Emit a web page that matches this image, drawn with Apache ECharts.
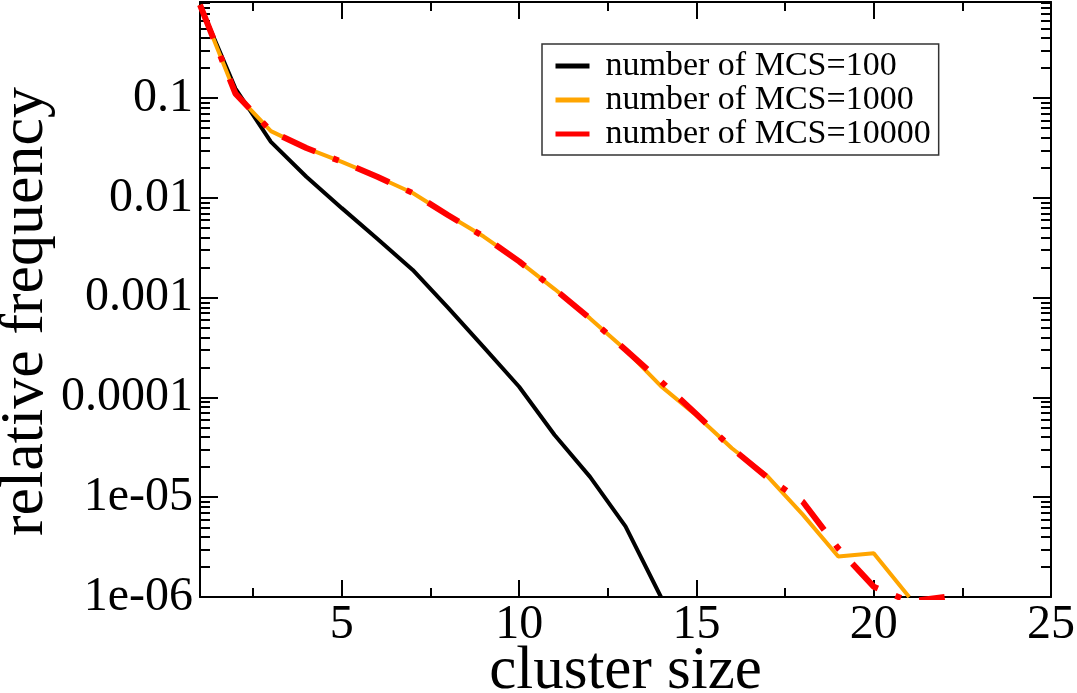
<!DOCTYPE html>
<html>
<head>
<meta charset="utf-8">
<script src="https://cdn.jsdelivr.net/npm/echarts@6/dist/echarts.min.js"></script>
<style>
  html, body { margin: 0; padding: 0; background: #fff; }
  #main { width: 1077px; height: 693px; }
</style>
</head>
<body>
<div id="main"></div>
<script>
// cluster size, 1..22
var sizes = [1, 2, 3, 4, 5, 6, 7, 8, 9, 10, 11, 12, 13, 14, 15, 16, 17, 18, 19, 20, 21, 22];

// relative frequency
var mcs100 = [0.86, 0.125, 0.0365, 0.0163, 0.0079, 0.0039, 0.0019, 0.00079, 0.00032, 0.000128,
	4.2e-5, 1.6e-5, 5.1e-6, 1.0e-6];
var mcs1000 = [0.86, 0.111, 0.0467, 0.0316, 0.023, 0.0163, 0.0112, 0.0067, 0.0041, 0.00231,
	0.00122, 0.00062, 0.0003, 0.00013, 6.6e-5, 3.1e-5, 1.63e-5, 6.7e-6, 2.55e-6, 2.75e-6, 1.0e-6];
var mcs10000 = [0.86, 0.111, 0.0467, 0.0316, 0.023, 0.0163, 0.0112, 0.0067, 0.0041, 0.00231,
	0.00122, 0.00062, 0.0003, 0.000145, 6.8e-5, 3.1e-5, 1.58e-5, 9.0e-6, 3.07e-6, 1.27e-6, 9.0e-7, 1.0e-6];

var names = ['number of MCS=100', 'number of MCS=1000', 'number of MCS=10000'];

// ticks
var xMajor = [5, 10, 15, 20, 25];
var xMinor = [2.5, 7.5, 12.5, 17.5, 22.5];
var yMajor = [1e-6, 1e-5, 1e-4, 1e-3, 1e-2, 1e-1];
var yLabels = ['1e-06', '1e-05', '0.0001', '0.001', '0.01', '0.1'];
var yMinor = [];
for (var e = -6; e <= -1; e++) {
	for (var k = 2; k <= 9; k++) {
		var v = +(k * Math.pow(10, e)).toPrecision(3);
		if (v < 0.92) yMinor.push(v);
	}
}

function pairs(ys) {
	return ys.map(function (y, i) { return [sizes[i], y]; });
}

var font = 'Liberation Serif';
var black = '#000';

function xAx(pos, ticks, len, withLine, withLabel) {
	return {
		type: 'value', min: 1, max: 25, position: pos,
		axisLine: { show: withLine, lineStyle: { color: black, width: 2 } },
		axisTick: { show: true, inside: true, length: len, customValues: ticks,
			lineStyle: { color: black, width: 2 } },
		axisLabel: withLabel ? { customValues: xMajor, fontSize: 48, fontFamily: font,
			color: black, margin: 4 } : { show: false },
		splitLine: { show: false }
	};
}

function yAx(pos, ticks, len, withLine, withLabel) {
	return {
		type: 'log', logBase: 10, min: 1e-6, max: 0.92, position: pos,
		axisLine: { show: withLine, lineStyle: { color: black, width: 2 } },
		axisTick: { show: true, inside: true, length: len, customValues: ticks,
			lineStyle: { color: black, width: 2 } },
		axisLabel: withLabel ? {
			customValues: yMajor, fontSize: 48, fontFamily: font, color: black, margin: 7,
			formatter: function (val) {
				var idx = -1;
				yMajor.forEach(function (m, i) { if (Math.abs(Math.log10(val) - Math.log10(m)) < 1e-6) idx = i; });
				return idx >= 0 ? yLabels[idx] : '';
			}
		} : { show: false },
		splitLine: { show: false },
		minorSplitLine: { show: false }
	};
}

var x0 = xAx('bottom', xMajor, 17, true, true);
x0.name = 'cluster size';
x0.nameLocation = 'middle';
x0.nameGap = 44;
x0.nameMoveOverlap = false;
x0.nameTextStyle = { fontSize: 61, fontFamily: font, color: black };

var y0 = yAx('left', yMajor, 18, true, true);
y0.name = 'relative frequency';
y0.nameLocation = 'middle';
y0.nameGap = 143;
y0.nameMoveOverlap = false;
y0.nameTextStyle = { fontSize: 62, fontFamily: font, color: black, padding: [0, 24, 0, 0] };

var myChart = echarts.init(document.getElementById('main'));

var option = {
	animation: false,
	backgroundColor: '#fff',
	grid: { left: 200, right: 26, top: 2, bottom: 96, containLabel: false, outerBoundsMode: 'none' },
	legend: {
		orient: 'vertical', left: 542, top: 44,
		padding: [5, 8, 4, 11],
		itemWidth: 34, itemHeight: 14, itemGap: 0,
		borderColor: '#333', borderWidth: 1.5, borderRadius: 0,
		itemStyle: { opacity: 0 },
		lineStyle: { width: 5 },
		textStyle: { fontSize: 34, fontFamily: font, color: black, lineHeight: 32, padding: [0, 0, 0, 11] },
		data: names
	},
	xAxis: [
		x0,
		xAx('bottom', xMinor, 9, false, false),
		xAx('top', xMajor, 17, true, false),
		xAx('top', xMinor, 9, false, false)
	],
	yAxis: [
		y0,
		yAx('left', yMinor, 10, false, false),
		yAx('right', yMajor, 18, true, false),
		yAx('right', yMinor, 10, false, false)
	],
	series: [{
		name: names[0], type: 'line', data: pairs(mcs100),
		symbol: 'none', lineStyle: { color: '#000', width: 4 }, itemStyle: { color: '#000' }
	}, {
		name: names[1], type: 'line', data: pairs(mcs1000),
		symbol: 'none', lineStyle: { color: '#ffa500', width: 4 }, itemStyle: { color: '#ffa500' }
	}, {
		name: names[2], type: 'line', data: pairs(mcs10000),
		symbol: 'none', lineStyle: { color: '#ff0000', width: 6, type: [36, 19, 6, 19] },
		itemStyle: { color: '#ff0000' }
	}]
};

myChart.setOption(option);
</script>
</body>
</html>
